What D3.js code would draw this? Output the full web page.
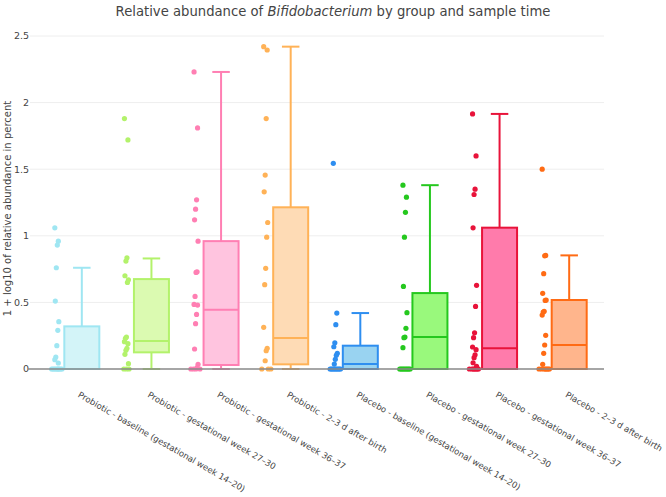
<!DOCTYPE html>
<html>
<head>
<meta charset="utf-8">
<script src="https://cdn.jsdelivr.net/npm/d3@7"></script>
<style>
  body { margin: 0; background: #fff; }
  svg text { font-family: "DejaVu Sans", Verdana, sans-serif; fill: #444; }
</style>
</head>
<body>
<svg width="666" height="497"></svg>
<script>
// categorias
const groups = [
  "Probiotic - baseline (gestational week 14–20)",
  "Probiotic - gestational week 27–30",
  "Probiotic - gestational week 36–37",
  "Probiotic - 2–3 d after birth",
  "Placebo - baseline (gestational week 14–20)",
  "Placebo - gestational week 27–30",
  "Placebo - gestational week 36–37",
  "Placebo - 2–3 d after birth"
];

// estadisticos de las cajas
const q1 = [0, 0.125, 0.03, 0.035, 0, 0, 0, 0];
const medians = [0, 0.21, 0.445, 0.233, 0.037, 0.24, 0.155, 0.18];
const q3 = [0.32, 0.675, 0.96, 1.214, 0.175, 0.57, 1.061, 0.518];
const whiskerLow = [0, 0, 0, 0, 0, 0, 0, 0];
const whiskerHigh = [0.76, 0.83, 2.23, 2.42, 0.42, 1.38, 1.915, 0.853];

// puntos individuales
const points = [
  [1.06, 0.96, 0.93, 0.76, 0.51, 0.355, 0.29, 0.175, 0.09, 0.07, 0.045, 0, 0, 0, 0, 0, 0, 0, 0, 0, 0],
  [1.88, 1.72, 0.835, 0.81, 0.70, 0.67, 0.65, 0.24, 0.23, 0.205, 0.19, 0.155, 0.14, 0.11, 0.04, 0, 0, 0],
  [2.23, 1.81, 1.27, 1.20, 1.12, 0.96, 0.73, 0.725, 0.545, 0.485, 0.48, 0.41, 0.34, 0.15, 0.035, 0.01, 0, 0, 0, 0],
  [2.42, 2.395, 1.88, 1.456, 1.33, 1.10, 0.99, 0.756, 0.633, 0.313, 0.155, 0.137, 0.062, 0, 0, 0],
  [1.544, 0.42, 0.333, 0.197, 0.167, 0.118, 0.103, 0.073, 0.037, 0, 0, 0, 0, 0, 0, 0, 0, 0],
  [1.38, 1.29, 1.176, 0.99, 0.62, 0.423, 0.305, 0.24, 0.235, 0.16, 0, 0, 0, 0, 0, 0, 0, 0, 0],
  [1.915, 1.60, 1.35, 1.31, 1.06, 0.628, 0.47, 0.272, 0.235, 0.165, 0.145, 0.107, 0.085, 0.047, 0.02, 0, 0, 0, 0, 0, 0, 0],
  [1.50, 0.853, 0.85, 0.716, 0.568, 0.518, 0.515, 0.433, 0.428, 0.405, 0.253, 0.18, 0.118, 0.035, 0, 0, 0, 0, 0, 0, 0]
];

const yTicks = [0, 0.5, 1, 1.5, 2, 2.5];

const strokes = ["#9fe6f2", "#b3f26b", "#ff7fb3", "#ffb257", "#2e8ef0", "#25c81e", "#e8133a", "#ff6b14"];
const fills = ["#d3f4f8", "#dbfab1", "#ffc4df", "#fedbb5", "#99d3f1", "#99f97c", "#ff7bab", "#ffb58c"];

const svg = d3.select("svg");
const plotLeft = 30, plotRight = 604, plotTop = 36, plotBottom = 369;

const x = d3.scaleBand().domain(groups).range([47, plotRight]);
const y = d3.scaleLinear().domain([0, 2.5]).range([plotBottom, plotTop]);

const boxW = 35;
const ptOffset = -25;

// titulo
const title = svg.append("text")
  .attr("x", 333)
  .attr("y", 16)
  .attr("text-anchor", "middle")
  .style("font-size", "13.2px");
title.append("tspan").text("Relative abundance of ");
title.append("tspan").style("font-style", "italic").text("Bifidobacterium");
title.append("tspan").text(" by group and sample time");

// rejilla
svg.append("g")
  .selectAll("line")
  .data(yTicks.filter((t) => t > 0))
  .enter()
  .append("line")
  .attr("x1", plotLeft)
  .attr("x2", plotRight)
  .attr("y1", (d) => y(d))
  .attr("y2", (d) => y(d))
  .attr("stroke", "#eeeeee")
  .attr("stroke-width", 1);

// etiquetas eje Y
svg.append("g")
  .selectAll("text")
  .data(yTicks)
  .enter()
  .append("text")
  .attr("x", plotLeft - 1)
  .attr("y", (d) => y(d))
  .attr("dy", "0.35em")
  .attr("text-anchor", "end")
  .style("font-size", "9.5px")
  .text((d) => d3.format("~g")(d));

svg.append("text")
  .attr("transform", `translate(11,${(plotTop + plotBottom) / 2 + 6}) rotate(-90)`)
  .attr("text-anchor", "middle")
  .style("font-size", "10px")
  .text("1 + log10 of relative abundance in percent");

// cajas
const boxes = svg.append("g")
  .selectAll("g")
  .data(groups)
  .enter()
  .append("g");

boxes.append("line")
  .attr("x1", (d) => x(d) + x.bandwidth() / 2)
  .attr("x2", (d) => x(d) + x.bandwidth() / 2)
  .attr("y1", (d, i) => y(whiskerHigh[i]))
  .attr("y2", (d, i) => y(q3[i]))
  .attr("stroke", (d, i) => strokes[i])
  .attr("stroke-width", 2);

boxes.append("line")
  .attr("x1", (d) => x(d) + x.bandwidth() / 2)
  .attr("x2", (d) => x(d) + x.bandwidth() / 2)
  .attr("y1", (d, i) => y(whiskerLow[i]))
  .attr("y2", (d, i) => y(q1[i]))
  .attr("stroke", (d, i) => strokes[i])
  .attr("stroke-width", 2);

boxes.selectAll(".cap")
  .data((d, i) => [{ g: d, v: whiskerHigh[i], i }, { g: d, v: whiskerLow[i], i }])
  .enter()
  .append("line")
  .attr("class", "cap")
  .attr("x1", (d) => x(d.g) + x.bandwidth() / 2 - boxW / 4)
  .attr("x2", (d) => x(d.g) + x.bandwidth() / 2 + boxW / 4)
  .attr("y1", (d) => y(d.v))
  .attr("y2", (d) => y(d.v))
  .attr("stroke", (d) => strokes[d.i])
  .attr("stroke-width", 2);

boxes.append("rect")
  .attr("x", (d) => x(d) + x.bandwidth() / 2 - boxW / 2)
  .attr("width", boxW)
  .attr("y", (d, i) => y(q3[i]))
  .attr("height", (d, i) => y(q1[i]) - y(q3[i]))
  .attr("fill", (d, i) => fills[i])
  .attr("stroke", (d, i) => strokes[i])
  .attr("stroke-width", 2);

boxes.append("line")
  .attr("x1", (d) => x(d) + x.bandwidth() / 2 - boxW / 2)
  .attr("x2", (d) => x(d) + x.bandwidth() / 2 + boxW / 2)
  .attr("y1", (d, i) => y(medians[i]))
  .attr("y2", (d, i) => y(medians[i]))
  .attr("stroke", (d, i) => strokes[i])
  .attr("stroke-width", 2);

// linea del cero
svg.append("line")
  .attr("x1", plotLeft - 2)
  .attr("x2", plotRight)
  .attr("y1", y(0))
  .attr("y2", y(0))
  .attr("stroke", "#888")
  .attr("stroke-width", 1.5);

// puntos (jitter determinista)
boxes.selectAll("circle")
  .data((d, i) => points[i].map((v, j) => ({ g: d, v, j, i })))
  .enter()
  .append("circle")
  .attr("cx", (d) => x(d.g) + x.bandwidth() / 2 + ptOffset + (((d.j * 7) % 9) - 4) * (d.v === 0 ? 1.3 : 0.5))
  .attr("cy", (d) => y(d.v))
  .attr("r", 2.6)
  .attr("fill", (d) => strokes[d.i]);

// etiquetas eje X rotadas
svg.append("g")
  .selectAll("text")
  .data(groups)
  .enter()
  .append("text")
  .attr("transform", (d) => `translate(${x(d) + x.bandwidth() / 2 - 3},${plotBottom + 25}) rotate(30)`)
  .attr("dy", "0.35em")
  .attr("text-anchor", "start")
  .style("font-size", "8.5px")
  .text((d) => d);
</script>
</body>
</html>
